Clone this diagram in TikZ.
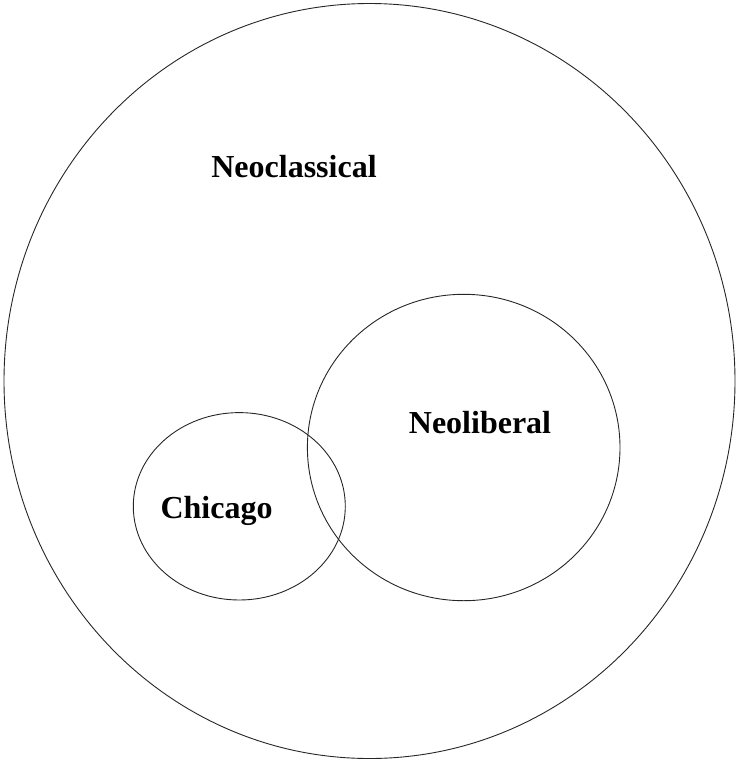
\documentclass[tikz,border=0pt]{standalone}
\usepackage{fontspec}
\setmainfont{Liberation Serif}
\usetikzlibrary{positioning}

\tikzset{
	ring/.style={draw=black!85, line width=0.9pt},
	setlabel/.style={anchor=base, inner sep=0pt, font=\bfseries\fontsize{32}{38}\selectfont}
}

\begin{document}
\begin{tikzpicture}[x=1pt, y=-1pt]
			\useasboundingbox (0,0) rectangle (736,761);
			\coordinate (outer) at (369.5,381);
			\coordinate (lib) at (463.7,447.5);
			\coordinate (chi) at (239.3,506.3);
			
			\draw[ring] (outer) ellipse [x radius=365.5, y radius=377.5];
			\draw[ring] (lib) ellipse [x radius=156.3, y radius=153.2];
			\draw[ring] (chi) ellipse [x radius=106, y radius=93.7];
			
			\node[setlabel] (neoclassical) at (294,177) {Neoclassical};
			\node[setlabel] (neoliberal) at (480,433) {Neoliberal};
			\node[setlabel] (chicago) at (216.5,518) {Chicago};
		\end{tikzpicture}
\end{document}
